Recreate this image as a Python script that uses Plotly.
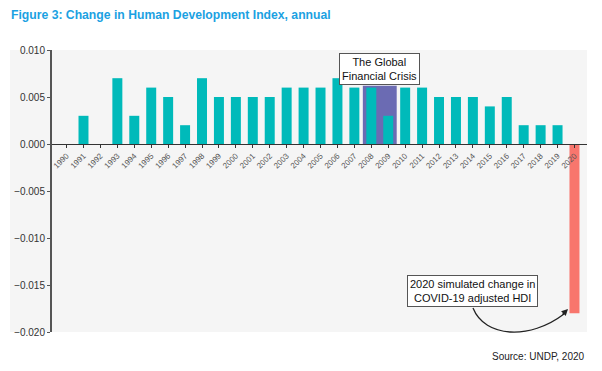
import plotly.graph_objects as go

years = [str(y) for y in range(1990, 2021)]
hdi_change = [0.000, 0.003, 0.000, 0.007, 0.003, 0.006, 0.005, 0.002, 0.007, 0.005,
              0.005, 0.005, 0.005, 0.006, 0.006, 0.006, 0.007, 0.006, 0.006, 0.003,
              0.006, 0.006, 0.005, 0.005, 0.005, 0.004, 0.005, 0.002, 0.002, 0.002,
              -0.018]
y_ticks = [0.010, 0.005, 0.000, -0.005, -0.010, -0.015, -0.020]
crisis_years = ["2008", "2009"]
crisis_top = 0.0062

TEAL = "#00BABA"
RED = "#F8766D"
PURPLE = "#6B6BB3"

W, H = 602, 371
L, R, T, B = 52, 15, 50, 39
PW, PH = W - L - R, H - T - B

def px(x):
    return (x - L) / PW

def py(y):
    return 1 - (y - T) / PH

colors = [RED if v < 0 else TEAL for v in hdi_change]

fig = go.Figure()
fig.add_trace(go.Bar(x=years, y=hdi_change, marker=dict(color=colors, line=dict(width=0)),
                     hoverinfo="x+y"))

idx0 = years.index(crisis_years[0])
idx1 = years.index(crisis_years[1])
shapes = [
    dict(type="rect", xref="paper", yref="paper", x0=px(10), x1=1, y0=0, y1=1,
         fillcolor="#F5F5F5", line=dict(width=0), layer="below"),
    dict(type="rect", xref="x", yref="y", x0=idx0 - 0.5, x1=idx1 + 0.5, y0=0, y1=crisis_top,
         fillcolor=PURPLE, line=dict(width=0), layer="below"),
    dict(type="path", xref="paper", yref="paper",
         path=f"M {px(473)},{py(308)} C {px(485)},{py(338)} {px(530)},{py(340)} {px(564)},{py(314)}",
         line=dict(color="#222222", width=1.3)),
]

annotations = [
    dict(text="<b>Figure 3: Change in Human Development Index, annual</b>", xref="paper", yref="paper",
         x=px(9), y=py(6), xanchor="left", yanchor="top", showarrow=False,
         font=dict(family="Liberation Sans, Arial", size=12.2, color="#1BA1E2")),
    dict(text="Source: UNDP, 2020", xref="paper", yref="paper", x=1, y=py(356),
         xanchor="right", yanchor="middle", showarrow=False,
         font=dict(family="Liberation Sans, Arial", size=10, color="#222222")),
    dict(text="The Global<br>Financial Crisis", xref="paper", yref="paper",
         x=px(379), y=py(69), xanchor="center", yanchor="middle", showarrow=False,
         bgcolor="white", bordercolor="#555555", borderwidth=1, borderpad=2,
         font=dict(family="Liberation Sans, Arial", size=11, color="#111111")),
    dict(text="2020 simulated change in<br>COVID-19 adjusted HDI", xref="paper", yref="paper",
         x=px(472), y=py(291), xanchor="center", yanchor="middle", showarrow=False,
         bgcolor="white", bordercolor="#555555", borderwidth=1, borderpad=2,
         font=dict(family="Liberation Sans, Arial", size=11, color="#111111")),
    dict(text="", xref="paper", yref="paper", x=px(568), y=py(309), ax=-7, ay=7,
         showarrow=True, arrowhead=2, arrowsize=1, arrowwidth=1.3, arrowcolor="#222222"),
]

fig.update_layout(
    width=W, height=H,
    margin=dict(l=L, r=R, t=T, b=B),
    paper_bgcolor="white", plot_bgcolor="#F5F5F5",
    showlegend=False, bargap=0.41,
    shapes=shapes, annotations=annotations,
    font=dict(family="Liberation Sans, Arial", color="#333333"),
    xaxis=dict(type="category", anchor="free", position=py(144), showline=True,
               linecolor="#333333", linewidth=1.2, tickangle=-45, ticks="outside",
               ticklen=3, tickcolor="#333333", tickwidth=1,
               tickfont=dict(size=8, color="#555555"), showgrid=False, zeroline=False,
               range=[-0.86, len(years) - 0.26]),
    yaxis=dict(range=[-0.020, 0.010], tickvals=y_ticks, tickformat=".3f",
               showline=True, linecolor="#555555", linewidth=2, ticks="outside",
               ticklen=3, tickcolor="#555555", showgrid=False, zeroline=False,
               tickfont=dict(size=10, color="#333333")),
)

fig.write_html("out.html", config={"displayModeBar": False},
               post_script="document.body.style.margin='0px';")
